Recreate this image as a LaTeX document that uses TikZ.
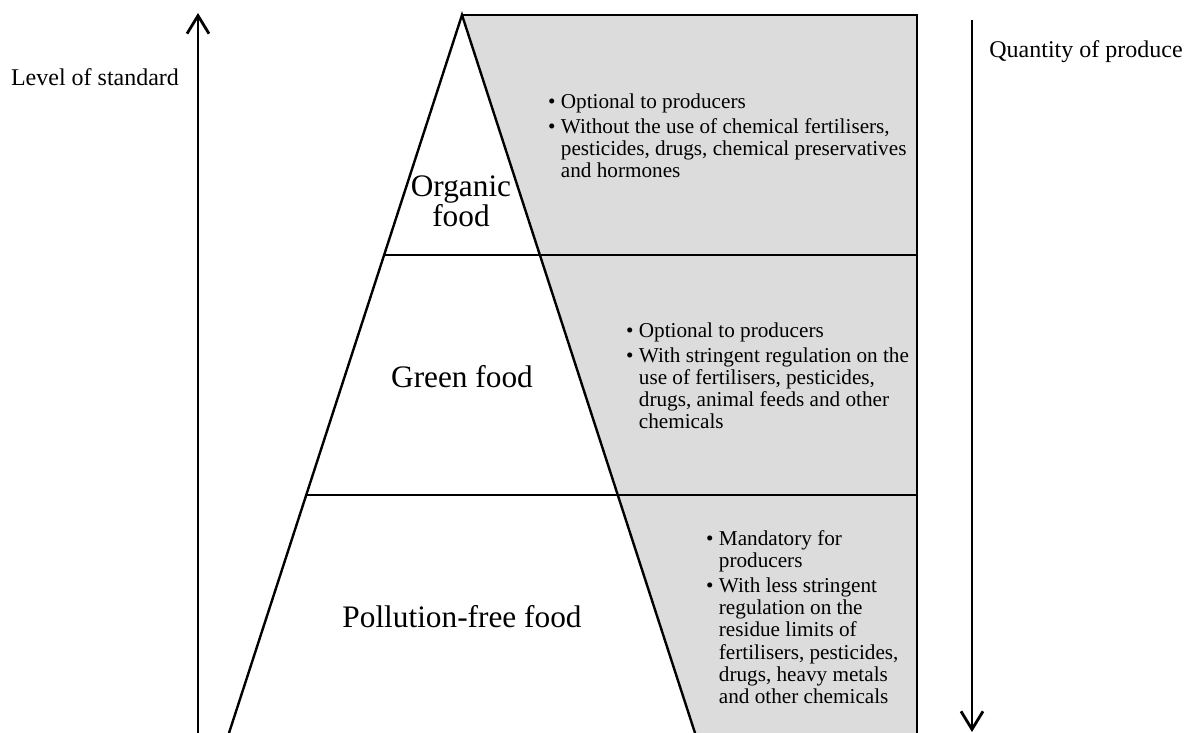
\documentclass[tikz,border=0pt]{standalone}
\usepackage{fontspec}
\setmainfont{Liberation Serif}
\usetikzlibrary{arrows.meta}
\definecolor{panelgrey}{HTML}{DCDCDC}
\begin{document}
\begin{tikzpicture}[x=1pt,y=-1pt,
  edge/.style={line width=2.4pt, line join=miter},
  axis/.style={line width=2.8pt, -{Straight Barb[length=18pt,width=22pt,line width=2.8pt]}},
  big/.style={font=\fontsize{31.3}{30}\selectfont, align=center, inner sep=0pt},
  small/.style={font=\fontsize{21.2}{22.2}\selectfont, align=left, anchor=north west, inner sep=0pt},
  axlabel/.style={font=\fontsize{24}{28}\selectfont, inner sep=0pt, anchor=base}]
\useasboundingbox (0,0) rectangle (1189,733);
% geometry
\coordinate (apex) at (462,15);
\coordinate (tr) at (917,15);
\coordinate (br) at (917,733);
\coordinate (l1) at (384,255);
\coordinate (m1) at (917,255);
\coordinate (l2) at (306,495);
\coordinate (m2) at (917,495);
\coordinate (bl) at (229,733);
\coordinate (bre) at (695,733);
% grey panel
\fill[panelgrey] (apex) -- (tr) -- (br) -- (bre) -- cycle;
% outlines
\draw[edge] (bl) -- (apex) -- (bre);
\draw[edge] (apex) -- (tr) -- (br);
\draw[edge] (l1) -- (m1);
\draw[edge] (l2) -- (m2);
% axes
\coordinate (la0) at (198,733);
\coordinate (la1) at (198,13);
\coordinate (ra0) at (972,20);
\coordinate (ra1) at (972,732);
\draw[axis] (la0) -- (la1);
\draw[axis] (ra0) -- (ra1);
\node[axlabel] (lvl) at (95,86) {Level of standard};
\node[axlabel] (qty) at (1086,58) {Quantity of produce};
% tier labels
\node[big, anchor=north] (organic) at (461,176) {Organic\\food};
\node[big, anchor=base] (green) at (462,387) {Green food};
\node[big, anchor=base] (pollution) at (462,627) {Pollution-free food};
% descriptions
\node[small] (d1) at (548,93.5) {\textbullet\ Optional to producers\\[2.5pt]
\textbullet\ Without the use of chemical fertilisers,\\
\hphantom{\textbullet\ }pesticides, drugs, chemical preservatives\\
\hphantom{\textbullet\ }and hormones};
\node[small] (d2) at (626,322.5) {\textbullet\ Optional to producers\\[2.5pt]
\textbullet\ With stringent regulation on the\\
\hphantom{\textbullet\ }use of fertilisers, pesticides,\\
\hphantom{\textbullet\ }drugs, animal feeds and other\\
\hphantom{\textbullet\ }chemicals};
\node[small] (d3) at (706,530.5) {\textbullet\ Mandatory for\\
\hphantom{\textbullet\ }producers\\[2.5pt]
\textbullet\ With less stringent\\
\hphantom{\textbullet\ }regulation on the\\
\hphantom{\textbullet\ }residue limits of\\
\hphantom{\textbullet\ }fertilisers, pesticides,\\
\hphantom{\textbullet\ }drugs, heavy metals\\
\hphantom{\textbullet\ }and other chemicals};
\end{tikzpicture}
\end{document}
